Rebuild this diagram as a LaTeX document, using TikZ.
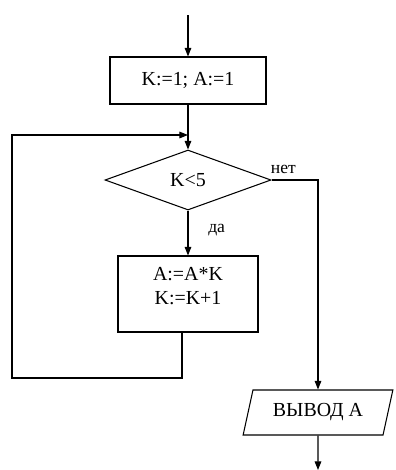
\documentclass[tikz,border=0pt]{standalone}
\usepackage{fontspec}
\setmainfont{Liberation Serif}
\usetikzlibrary{shapes.geometric, arrows.meta, positioning, calc}
\tikzset{
    box/.style={rectangle, draw=black, line width=0.9pt, align=center, font=\fontsize{17}{20}\selectfont, inner sep=2pt},
    decision/.style={diamond, draw=black, line width=0.9pt, font=\fontsize{17}{20}\selectfont, inner sep=1pt, minimum width=4.98cm, minimum height=1.8cm},
    io/.style={trapezium, trapezium left angle=72, trapezium right angle=108, trapezium stretches=true, draw=black, line width=0.9pt, font=\fontsize{17}{20}\selectfont, inner sep=2pt},
    lbl/.style={font=\fontsize{15}{17}\selectfont, inner sep=0pt},
    arr/.style={-{Triangle[length=2.6mm, width=2mm]}, line width=0.9pt, black}
}
\begin{document}
\begin{tikzpicture}
    \useasboundingbox (0,0) rectangle (11.85,-14.1);
    \coordinate (start) at (5.64,-0.45);
    \node[box, minimum width=4.68cm, minimum height=1.41cm] (init) at (5.64,-2.415) {K:=1; A:=1};
    \node[decision] (cond) at (5.64,-5.4) {K<5};
    \node[box, minimum width=4.2cm, minimum height=2.28cm] (body) at (5.64,-8.82) {A:=A*K\\K:=K+1\\[-6pt]\mbox{}};
    \node[io, minimum width=4.5cm, minimum height=1.35cm] (out) at (9.54,-12.375) {ВЫВОД А};
    \coordinate (join) at (5.64,-4.05);
    \coordinate (loopc) at (0.36,-11.34);
    \coordinate (stop) at (9.54,-14.1);
    \node[lbl] (no) at (8.5,-5.08) {нет};
    \node[lbl] (yes) at (6.5,-6.9) {да};
    \draw[arr] (start)--(init);
    \draw[arr] (init)--(cond);
    \draw[arr] (cond)--(body);
    \draw[arr] ($(body.south)+(-0.18,0)$) |- (loopc) |- (join);
    \draw[arr] (cond.east) -| (out.north);
    \draw[arr] (out)--(stop);
\end{tikzpicture}
\end{document}
